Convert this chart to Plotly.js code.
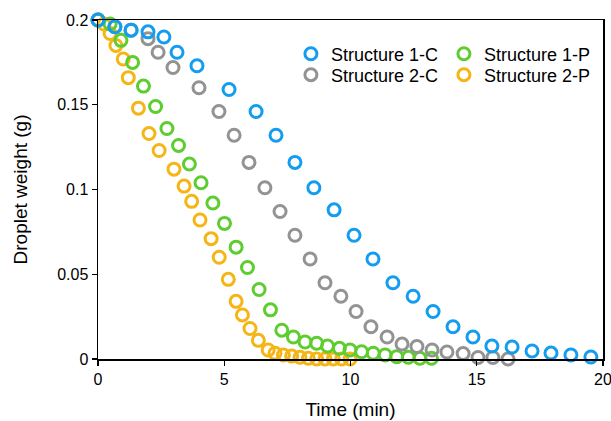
<!DOCTYPE html>
<html>
<head>
<meta charset="utf-8">
<script src="https://cdn.plot.ly/plotly-3.0.1.min.js"></script>
<style>html,body{margin:0;padding:0;background:#fff;}#chart{width:611px;height:421px;}</style>
</head>
<body>
<div id="chart"></div>
<script>
// Structure 1-C (blue)
const s1cX = [0, 0.67, 1.31, 1.98, 2.61, 3.13, 3.92, 5.19, 6.26, 7.05, 7.80, 8.55, 9.35, 10.14, 10.89, 11.68, 12.48, 13.27, 14.06, 14.85, 15.60, 16.40, 17.19, 17.94, 18.73, 19.52];
const s1cY = [0.2, 0.196, 0.194, 0.193, 0.190, 0.181, 0.173, 0.159, 0.146, 0.132, 0.116, 0.101, 0.088, 0.073, 0.059, 0.045, 0.037, 0.028, 0.019, 0.013, 0.0077, 0.0071, 0.0047, 0.0035, 0.0024, 0.0012];
// Structure 2-C (gray)
const s2cX = [0, 0.67, 1.31, 1.98, 2.38, 2.97, 4.0, 4.79, 5.39, 5.98, 6.61, 7.21, 7.80, 8.40, 8.99, 9.62, 10.22, 10.81, 11.45, 12.04, 12.63, 13.23, 13.82, 14.46, 15.05, 15.64, 16.24];
const s2cY = [0.2, 0.196, 0.194, 0.189, 0.181, 0.172, 0.160, 0.146, 0.132, 0.116, 0.101, 0.087, 0.073, 0.059, 0.045, 0.037, 0.028, 0.019, 0.013, 0.0088, 0.0074, 0.0053, 0.0041, 0.0032, 0.0009, 0.0009, 0.0];
// Structure 1-P (green)
const s1pX = [0, 0.48, 0.91, 1.37, 1.80, 2.28, 2.73, 3.19, 3.62, 4.08, 4.55, 5.01, 5.47, 5.92, 6.38, 6.83, 7.28, 7.74, 8.20, 8.66, 9.09, 9.56, 9.98, 10.44, 10.90, 11.37, 11.83, 12.29, 12.75, 13.21];
const s1pY = [0.2, 0.1976, 0.188, 0.175, 0.161, 0.149, 0.136, 0.126, 0.115, 0.104, 0.092, 0.080, 0.066, 0.054, 0.041, 0.029, 0.017, 0.013, 0.010, 0.0093, 0.0077, 0.0063, 0.0053, 0.0043, 0.0034, 0.0024, 0.0014, 0.0010, 0.0004, 0.0004];
// Structure 2-P (yellow)
const s2pX = [0, 0.24, 0.48, 0.71, 1.0, 1.2, 1.6, 2.02, 2.42, 3.01, 3.41, 3.71, 4.04, 4.48, 4.80, 5.16, 5.47, 5.72, 6.02, 6.35, 6.74, 7.01, 7.34, 7.67, 8.0, 8.33, 8.66, 8.99, 9.32, 9.65, 9.98];
const s2pY = [0.2, 0.1976, 0.192, 0.185, 0.177, 0.166, 0.148, 0.133, 0.123, 0.112, 0.102, 0.093, 0.082, 0.071, 0.060, 0.047, 0.034, 0.026, 0.018, 0.011, 0.0053, 0.0034, 0.0024, 0.0018, 0.0010, 0.0004, 0.0, 0.0, 0.0, 0.0, 0.0];

const names = ['Structure 1-C', 'Structure 2-C', 'Structure 1-P', 'Structure 2-P'];
const colors = ['#139df0', '#939393', '#5dcd2f', '#f5b514'];
const xTicks = [0, 5, 10, 15, 20];
const yTicks = [0, 0.05, 0.1, 0.15, 0.2];

function tr(x, y, i, leg) {
  return {
    x: x, y: y, name: names[i], type: 'scatter', mode: 'markers',
    cliponaxis: false, legend: leg,
    marker: {symbol: 'circle-open', size: 12, color: colors[i], line: {color: colors[i], width: 3}}
  };
}
const data = [
  tr(s2pX, s2pY, 3, 'legend4'),
  tr(s1pX, s1pY, 2, 'legend3'),
  tr(s2cX, s2cY, 1, 'legend2'),
  tr(s1cX, s1cY, 0, 'legend')
];

const font = 'Liberation Sans, Arial, Helvetica, sans-serif';
function leg(x, y) {
  return {
    orientation: 'v', x: x, xanchor: 'left', y: y, yanchor: 'middle',
    font: {family: font, size: 18, color: '#000'},
    bgcolor: 'rgba(0,0,0,0)', borderwidth: 0
  };
}
const col1 = 0.382, col2 = 0.685, row1 = 0.8997, row2 = 0.8378;
const layout = {
  width: 611, height: 421,
  margin: {l: 98, r: 8, t: 20, b: 62},
  paper_bgcolor: '#fff', plot_bgcolor: '#fff',
  font: {family: font, color: '#000', size: 16},
  showlegend: true,
  legend: leg(col1, row1),
  legend2: leg(col1, row2),
  legend3: leg(col2, row1),
  legend4: leg(col2, row2),
  xaxis: {
    range: [0, 20], tickmode: 'array', tickvals: xTicks, ticktext: xTicks.map(String),
    showline: true, linecolor: '#000', linewidth: 1.5, mirror: true,
    ticks: 'outside', ticklen: 5, tickwidth: 1.2, tickcolor: '#000',
    showgrid: false, zeroline: false, ticklabeloverflow: 'allow',
    tickfont: {family: font, size: 16, color: '#000'},
    title: {text: 'Time (min)', font: {family: font, size: 19, color: '#000'}, standoff: 16}
  },
  yaxis: {
    range: [0, 0.2], tickmode: 'array', tickvals: yTicks, ticktext: ['0', '0.05', '0.1', '0.15', '0.2'],
    showline: true, linecolor: '#000', linewidth: 1.5, mirror: true,
    ticks: 'outside', ticklen: 5, tickwidth: 1.2, tickcolor: '#000',
    showgrid: false, zeroline: false,
    tickfont: {family: font, size: 16, color: '#000'},
    title: {text: 'Droplet weight (g)', font: {family: font, size: 19, color: '#000'}, standoff: 24}
  }
};
Plotly.newPlot('chart', data, layout, {displayModeBar: false, staticPlot: true});
</script>
</body>
</html>
